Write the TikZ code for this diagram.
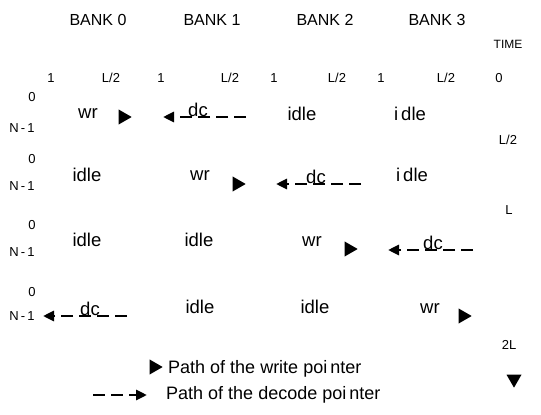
\documentclass[tikz,border=0pt]{standalone}
\usepackage{fontspec}
\setmainfont{Liberation Sans}
\usetikzlibrary{arrows.meta,shapes.geometric}
\begin{document}
\begin{tikzpicture}[x=1pt,y=-1pt,
  big/.style={inner sep=0pt,font=\fontsize{16}{18}\selectfont},
  lbl/.style={inner sep=0pt,font=\fontsize{18.5}{20}\selectfont},
  leg/.style={inner sep=0pt,font=\fontsize{18}{20}\selectfont},
  small/.style={inner sep=0pt,font=\fontsize{13}{15}\selectfont},
  wrhead/.style={isosceles triangle,isosceles triangle apex angle=60,fill=black,inner sep=0pt,minimum height=13pt,minimum width=10pt},
  dcarrow/.style={line width=2.8pt,dash pattern=on 12pt off 6pt,-{Triangle[length=11pt,width=10pt]}}]
\useasboundingbox (0,0) rectangle (541,415);
% bank headers
\node[big,anchor=base] (b0) at (98,25) {BANK 0};
\node[big,anchor=base] (b1) at (212,25) {BANK 1};
\node[big,anchor=base] (b2) at (325,25) {BANK 2};
\node[big,anchor=base] (b3) at (437,25) {BANK 3};
\node[small,font=\fontsize{12}{14}\selectfont] (time) at (508,44) {TIME};
% column labels
\node[small] (c0a) at (51,78) {1};
\node[small] (c0b) at (111,78) {L/2};
\node[small] (c1a) at (161,78) {1};
\node[small] (c1b) at (230,78) {L/2};
\node[small] (c2a) at (274,78) {1};
\node[small] (c2b) at (337,78) {L/2};
\node[small] (c3a) at (381,78) {1};
\node[small] (c3b) at (446,78) {L/2};
% time labels
\node[small] (t0) at (499,78) {0};
\node[small] (t1) at (508,140) {L/2};
\node[small] (t2) at (509,210) {L};
\node[small] (t3) at (509,345) {2L};
\node[wrhead,shape border rotate=270] (tarr) at (514,379) {};
% row labels
\foreach \i/\ya/\yb in {1/97/128, 2/159/186, 3/225/252, 4/292/316} {
  \node[small] (z\i) at (32,\ya) {0};
  \node[small] (n\i) at (22,\yb) {N\,-\,1};
}
% row 1
\node[lbl] (r1a) at (88,114) {wr};
\node[wrhead] (w1) at (123,117) {};
\node[lbl] (r1b) at (198,110) {dc};
\coordinate (d1s) at (246,117);
\coordinate (d1e) at (163,117);
\draw[dcarrow] (d1s) -- (d1e);
\node[lbl] (r1c) at (302,114) {idle};
\node[lbl] (r1d) at (410,114) {i\,dle};
% row 2
\node[lbl] (r2a) at (87,175) {idle};
\node[lbl] (r2b) at (200,176) {wr};
\node[wrhead] (w2) at (237,184) {};
\node[lbl] (r2c) at (316,177) {dc};
\coordinate (d2s) at (361,184);
\coordinate (d2e) at (276,184);
\draw[dcarrow] (d2s) -- (d2e);
\node[lbl] (r2d) at (412,175) {i\,dle};
% row 3
\node[lbl] (r3a) at (87,240) {idle};
\node[lbl] (r3b) at (199,240) {idle};
\node[lbl] (r3c) at (312,242) {wr};
\node[wrhead] (w3) at (349,249) {};
\node[lbl] (r3d) at (433,243) {dc};
\coordinate (d3s) at (473,250);
\coordinate (d3e) at (388,250);
\draw[dcarrow] (d3s) -- (d3e);
% row 4
\node[lbl] (r4a) at (90,309) {dc};
\coordinate (d4s) at (127,316);
\coordinate (d4e) at (43,316);
\draw[dcarrow] (d4s) -- (d4e);
\node[lbl] (r4b) at (200,307) {idle};
\node[lbl] (r4c) at (315,307) {idle};
\node[lbl] (r4d) at (430,309) {wr};
\node[wrhead] (w4) at (463,316) {};
% legend
\node[wrhead] (lw) at (154,367) {};
\node[leg,anchor=west] (lwt) at (168,369) {Path of the write poi\,nter};
\coordinate (lds) at (93,395);
\coordinate (lde) at (147,395);
\draw[dcarrow] (lds) -- (lde);
\node[leg,anchor=west] (ldt) at (166,395) {Path of the decode poi\,nter};
\end{tikzpicture}
\end{document}
